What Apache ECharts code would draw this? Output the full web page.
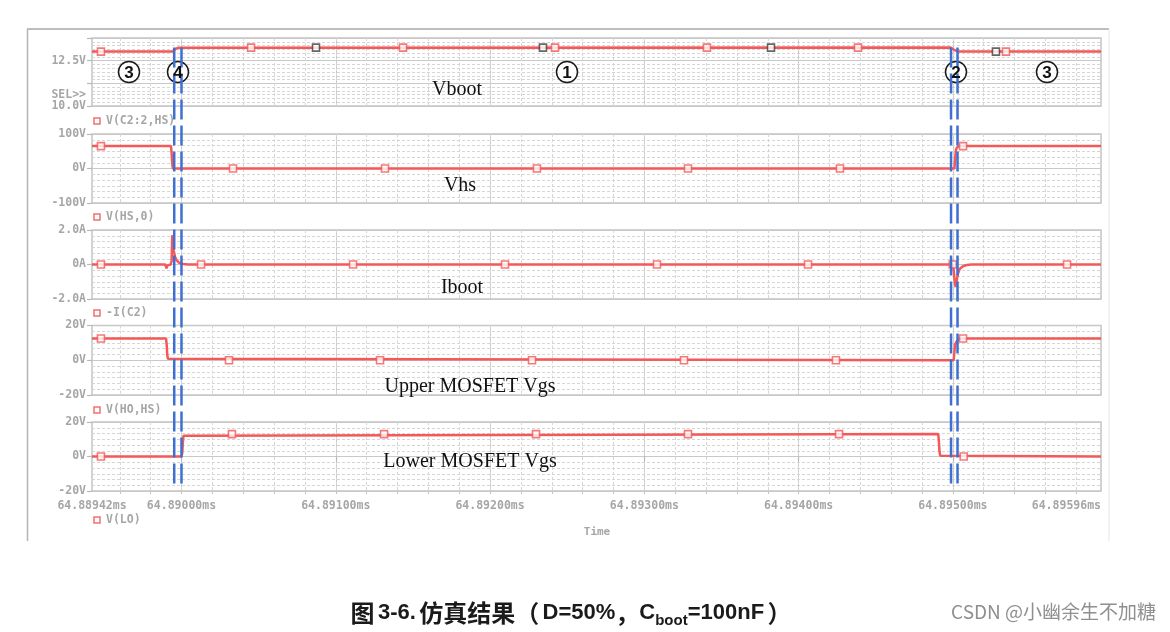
<!DOCTYPE html>
<html>
<head>
<meta charset="utf-8">
<script src="https://cdn.jsdelivr.net/npm/echarts@6/dist/echarts.min.js"></script>
<style>
  html, body { margin: 0; padding: 0; background: #ffffff; }
  #chart { width: 1170px; height: 632px; }
</style>
</head>
<body>
<div id="chart"></div>
<script>
// Time axis: nanoseconds after 64.889 ms
const T_MIN = 420;
const T_MAX = 6960;
const xLabelTicks = [420, 1000, 2000, 3000, 4000, 5000, 6000, 6960];
const xLabelTexts = ['64.88942ms', '64.89000ms', '64.89100ms', '64.89200ms', '64.89300ms', '64.89400ms', '64.89500ms', '64.89596ms'];
const xMajorTicks = [1000, 2000, 3000, 4000, 5000, 6000];
const xMinorStep = 200;

// Y tick labels of each panel
const vbootTicks = [10, 12.5];
const vbootTickLabels = ['10.0V', '12.5V'];
const vhsTicks = [-100, 0, 100];
const vhsTickLabels = ['-100V', '0V', '100V'];
const ibootTicks = [-2, 0, 2];
const ibootTickLabels = ['-2.0A', '0A', '2.0A'];
const vgsTicks = [-20, 0, 20];
const vgsTickLabels = ['-20V', '0V', '20V'];

// Traces: [time (ns after 64.889 ms), value]
const vbootTrace = [[420, 13.0], [945, 13.0], [952, 13.06], [958, 13.13], [966, 13.18], [978, 13.21], [990, 13.22],
  [5985, 13.22], [5995, 13.18], [6008, 13.1], [6020, 13.04], [6035, 13.0], [6960, 13.0]];
const vhsTrace = [[420, 65], [932, 65], [936, 45], [940, 15], [944, 0], [6010, 0], [6015, 30], [6020, 55],
  [6030, 63], [6045, 65], [6960, 65]];
const ibootTrace = [[420, 0], [895, 0], [903, -0.22], [910, -0.05], [930, 0], [936, 0.2], [940, 1.7], [944, 1.3],
  [950, 0.8], [958, 0.45], [968, 0.25], [985, 0.1], [1010, 0.03], [1045, 0], [5998, 0], [6005, -0.3], [6012, -1.0],
  [6018, -1.3], [6024, -1.0], [6032, -0.55], [6045, -0.25], [6065, -0.1], [6090, -0.03], [6120, 0], [6960, 0]];
const upperVgsTrace = [[420, 12.5], [900, 12.5], [904, 9], [908, 3], [912, 0.8], [918, 0], [6005, 0], [6010, 5],
  [6014, 9], [6022, 10.5], [6035, 12], [6050, 12.5], [6960, 12.5]];
const lowerVgsTrace = [[420, 0], [1000, 0], [1005, 2], [1009, 8], [1013, 12], [1020, 13], [5905, 13], [5909, 9],
  [5913, 3], [5918, 0.5], [5928, 0], [6960, 0]];

// Trace symbols
const vbootMarks = [[478, 13.0], [1451, 13.22], [2436, 13.22], [3421, 13.22], [4406, 13.22], [5385, 13.22], [6344, 13.0]];
const vbootDarkMarks = [[1872, 13.22], [3343, 13.22], [4821, 13.22], [6279, 13.0]];
const vhsMarks = [[478, 65], [1334, 0], [2319, 0], [3304, 0], [4283, 0], [5268, 0], [6066, 65]];
const ibootMarks = [[478, 0], [1127, 0], [2112, 0], [3097, 0], [4082, 0], [5061, 0], [5999, 0], [6740, 0]];
const upperVgsMarks = [[478, 12.5], [1308, 0], [2287, 0], [3272, 0], [4257, 0], [5242, 0], [6066, 12.5]];
const lowerVgsMarks = [[478, 0], [1327, 13], [2313, 13], [3298, 13], [4283, 13], [5262, 13], [6070, 0]];

// Cursor positions
const cursorTimes = [953, 1000, 5988, 6030];

const traceNames = ['V(C2:2,HS)', 'V(HS,0)', '-I(C2)', 'V(HO,HS)', 'V(LO)'];

const TRACE = '#f45858';
const GRID_C = '#c9c9c9';
const MINOR_C = '#d6d6d6';
const AXIS_TXT = '#a6a6a6';
const MONO = 'DejaVu Sans Mono';

const panels = [
  { top: 38, height: 68, min: 10, max: 13.75, interval: 1.25, ticks: vbootTicks, labels: vbootTickLabels,
    trace: vbootTrace, marks: vbootMarks, dark: vbootDarkMarks },
  { top: 134, height: 69, min: -100, max: 100, interval: 100, ticks: vhsTicks, labels: vhsTickLabels,
    trace: vhsTrace, marks: vhsMarks },
  { top: 230, height: 69, min: -2, max: 2, interval: 2, ticks: ibootTicks, labels: ibootTickLabels,
    trace: ibootTrace, marks: ibootMarks },
  { top: 325.5, height: 69.5, min: -20, max: 20, interval: 20, ticks: vgsTicks, labels: vgsTickLabels,
    trace: upperVgsTrace, marks: upperVgsMarks },
  { top: 422, height: 69, min: -20, max: 20, interval: 20, ticks: vgsTicks, labels: vgsTickLabels,
    trace: lowerVgsTrace, marks: lowerVgsMarks }
];

const xMinorTicks = [];
for (let t = 600; t <= 6800; t += xMinorStep) xMinorTicks.push(t);

const grids = [], xAxes = [], yAxes = [], series = [];
panels.forEach((p, i) => {
  const last = i === panels.length - 1;
  grids.push({ left: 92, right: 69, top: p.top, height: p.height, show: true,
    borderColor: '#c4c4c4', borderWidth: 1.5, backgroundColor: 'transparent' });
  // major vertical grid + labelled ticks
  xAxes.push({
    type: 'value', gridIndex: i, min: T_MIN, max: T_MAX, position: 'bottom',
    axisLine: { show: false },
    axisTick: { show: last, customValues: xMajorTicks, length: 5, lineStyle: { color: '#b8b8b8', width: 1.2 } },
    axisLabel: {
      show: last, customValues: xLabelTicks, margin: 9, alignMaxLabel: 'right',
      color: AXIS_TXT, fontFamily: MONO, fontWeight: 'bold', fontSize: 11.5,
      formatter: v => { const k = xLabelTicks.findIndex(t => Math.abs(t - v) < 1e-6); return k >= 0 ? xLabelTexts[k] : ''; }
    },
    splitLine: { show: true, lineStyle: { color: GRID_C, width: 1 } }
  });
  // minor vertical grid
  xAxes.push({
    type: 'value', gridIndex: i, min: T_MIN, max: T_MAX, position: 'bottom',
    axisLine: { show: false },
    axisTick: { show: last, customValues: xMinorTicks, length: 3, lineStyle: { color: '#c4c4c4', width: 1 } },
    axisLabel: { show: false },
    splitLine: { show: true, lineStyle: { color: MINOR_C, width: 1, type: [3, 2] } }
  });
  yAxes.push({
    type: 'value', gridIndex: i, min: p.min, max: p.max, interval: p.interval,
    axisLine: { show: false },
    axisTick: { show: true, length: 5, lineStyle: { color: '#b8b8b8', width: 1.2 } },
    axisLabel: {
      color: AXIS_TXT, fontFamily: MONO, fontWeight: 'bold', fontSize: 11.5, margin: 6,
      formatter: v => { const k = p.ticks.findIndex(t => Math.abs(t - v) < 1e-6); return k >= 0 ? p.labels[k] : ''; }
    },
    splitLine: { show: true, lineStyle: { color: GRID_C, width: 1 } },
    minorTick: { show: false, splitNumber: 6 },
    minorSplitLine: { show: true, lineStyle: { color: MINOR_C, width: 1, type: [3, 2] } }
  });
  series.push({
    type: 'line', xAxisIndex: i * 2, yAxisIndex: i, data: p.trace, showSymbol: false,
    lineStyle: { color: TRACE, width: 2.5 }, itemStyle: { color: TRACE }, animation: false, z: 3
  });
  series.push({
    type: 'scatter', xAxisIndex: i * 2, yAxisIndex: i, data: p.marks, symbol: 'rect', symbolSize: 7,
    itemStyle: { color: '#ffffff', borderColor: TRACE, borderWidth: 1.6 }, animation: false, z: 4
  });
  if (p.dark) {
    series.push({
      type: 'scatter', xAxisIndex: i * 2, yAxisIndex: i, data: p.dark, symbol: 'rect', symbolSize: 7,
      itemStyle: { color: '#ffffff', borderColor: '#404040', borderWidth: 1.6 }, animation: false, z: 4
    });
  }
});

const serifTxt = (text, x, y) => ({ type: 'text', x, y, z: 10,
  style: { text, fill: '#111', font: '20px "Liberation Serif"', align: 'center', verticalAlign: 'middle' } });
// circle outline below the cursor lines, digit above them
const circleRing = (x, y) => ({ type: 'circle', z: 10, shape: { cx: x, cy: y, r: 10.5 },
  style: { fill: 'rgba(255,255,255,0.85)', stroke: '#1a1a1a', lineWidth: 1.5 } });
const circleDigit = (num, x, y) => ({ type: 'text', z: 30, x, y: y + 1,
  style: { text: num, fill: '#111', font: 'bold 17px "Liberation Sans"', align: 'center', verticalAlign: 'middle' } });
const traceTag = (name, y) => ({ type: 'group', x: 97, y, z: 10, children: [
  { type: 'rect', shape: { x: -3, y: -3, width: 6, height: 6 }, style: { fill: '#fff', stroke: '#f27070', lineWidth: 1.5 } },
  { type: 'text', style: { text: name, x: 9, y: 0, fill: AXIS_TXT, font: 'bold 11.5px "DejaVu Sans Mono"', verticalAlign: 'middle' } }
] });

const circlePos = [['3', 129, 72], ['4', 178, 72], ['1', 567, 72], ['2', 956, 72], ['3', 1047, 72]];

const CAP_LATIN = '"Liberation Sans"';
const CAP_CJK = '"Noto Sans CJK SC"';

const graphics = [
  { type: 'line', shape: { x1: 27, y1: 29, x2: 1109, y2: 29 }, style: { stroke: '#a8a8a8', lineWidth: 1.5 } },
  { type: 'line', shape: { x1: 27.5, y1: 29, x2: 27.5, y2: 541 }, style: { stroke: '#b4b4b4', lineWidth: 1.5 } },
  { type: 'line', shape: { x1: 1109, y1: 29, x2: 1109, y2: 541 }, style: { stroke: '#e6e6e6', lineWidth: 1 } },
  { type: 'text', x: 86, y: 95, style: { text: 'SEL>>', fill: AXIS_TXT, font: 'bold 11.5px "DejaVu Sans Mono"', align: 'right', verticalAlign: 'middle' } },
  { type: 'text', x: 597, y: 532, style: { text: 'Time', fill: AXIS_TXT, font: 'bold 11px "DejaVu Sans Mono"', align: 'center', verticalAlign: 'middle' } },
  traceTag(traceNames[0], 121),
  traceTag(traceNames[1], 217),
  traceTag(traceNames[2], 313),
  traceTag(traceNames[3], 410),
  traceTag(traceNames[4], 520),
  serifTxt('Vboot', 457, 90),
  serifTxt('Vhs', 460, 186),
  serifTxt('Iboot', 462, 288),
  serifTxt('Upper MOSFET Vgs', 470, 387),
  serifTxt('Lower MOSFET Vgs', 470, 462)
].concat(circlePos.map(c => circleRing(c[1], c[2])), circlePos.map(c => circleDigit(c[0], c[1], c[2])), [
  { type: 'text', x: 571, y: 613, z: 10, style: {
    text: '{c|图} {a|3-6.} {c|仿真结果（} {a|D=50%}{c|，}{a|C}{s|boot}{a|=100nF} {c|）}',
    align: 'center', verticalAlign: 'middle',
    rich: {
      c: { fontSize: 24, fontWeight: 'bold', fontFamily: CAP_CJK, fill: '#1a1a1a', lineHeight: 30 },
      a: { fontSize: 22, fontWeight: 'bold', fontFamily: CAP_LATIN, fill: '#1a1a1a', lineHeight: 30 },
      s: { fontSize: 15, fontWeight: 'bold', fontFamily: CAP_LATIN, fill: '#1a1a1a', verticalAlign: 'bottom', lineHeight: 15 }
    } } },
  { type: 'text', x: 1156, y: 612, z: 10, style: { text: 'CSDN @小幽余生不加糖', fill: '#8f8f8f',
    font: '19px "Noto Sans CJK SC"', align: 'right', verticalAlign: 'middle' } }
]);

const chart = echarts.init(document.getElementById('chart'), null, { renderer: 'canvas' });
chart.setOption({
  animation: false,
  backgroundColor: '#ffffff',
  grid: grids, xAxis: xAxes, yAxis: yAxes, series,
  graphic: graphics
});

// Cursor lines, placed through the axes
const cursorTop = chart.convertToPixel({ gridIndex: 0 }, [T_MIN, 13.22])[1];
const cursorBottom = chart.convertToPixel({ gridIndex: 4 }, [T_MIN, -17])[1];
const cursorLines = cursorTimes.map(t => {
  const x = chart.convertToPixel({ gridIndex: 0 }, [t, 13])[0];
  return { type: 'line', z: 20, shape: { x1: x, y1: cursorTop, x2: x, y2: cursorBottom },
    style: { stroke: '#3f6fd1', lineWidth: 2.5, lineDash: [20, 6] } };
});
chart.setOption({ graphic: graphics.concat(cursorLines) });
</script>
</body>
</html>
